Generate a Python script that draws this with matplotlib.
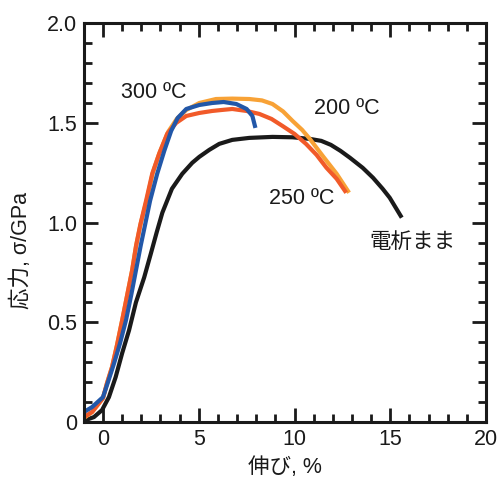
import matplotlib
matplotlib.use("Agg")
import matplotlib.pyplot as plt
from matplotlib.ticker import MultipleLocator

plt.rcParams["font.family"] = ["Liberation Sans", "Noto Sans CJK JP", "DejaVu Sans"]

# 応力-ひずみ曲線 (伸び %, 応力 GPa)
as_dep_x = [-1.0, -0.9, -0.47, -0.05, 0.31, 0.66, 1.0, 1.36, 1.72, 2.15, 2.5, 2.8, 3.1, 3.6, 4.14,
            4.66, 5.03, 5.55, 6.07, 6.75, 7.64, 8.85, 9.9, 10.8, 11.4, 11.9, 12.4, 12.9,
            13.56, 14.1, 14.6, 14.97, 15.6]
as_dep_y = [0.0, 0.01, 0.025, 0.06, 0.125, 0.225, 0.345, 0.46, 0.6, 0.725, 0.845, 0.95, 1.05,
            1.17, 1.245, 1.3, 1.33, 1.365, 1.395, 1.415, 1.425, 1.43, 1.428, 1.42, 1.41, 1.39,
            1.36, 1.325, 1.275, 1.225, 1.17, 1.125, 1.025]

t200_x = [-1.0, -0.57, 0.0, 0.21, 0.47, 0.73, 1.0, 1.26, 1.52, 1.73, 1.98, 2.3, 2.6, 2.95, 3.4,
          3.85, 4.35, 5.03, 5.9, 6.75, 7.64, 8.3, 8.85, 9.4, 9.9, 10.4, 10.8, 11.47, 12.2, 12.85]
t200_y = [0.02, 0.05, 0.12, 0.195, 0.275, 0.385, 0.51, 0.635, 0.76, 0.885, 1.0, 1.12, 1.25,
          1.35, 1.455, 1.52, 1.565, 1.6, 1.62, 1.622, 1.62, 1.613, 1.595, 1.558, 1.51, 1.465,
          1.42, 1.335, 1.245, 1.15]

t250_x = [-1.0, -0.57, 0.0, 0.21, 0.47, 0.73, 1.0, 1.26, 1.52, 1.73, 1.95, 2.25, 2.57, 2.93,
          3.35, 3.82, 4.35, 5.03, 5.7, 6.2, 6.75, 7.5, 8.17, 8.8, 9.37, 10.0, 10.6, 11.15,
          11.67, 12.2, 12.7]
t250_y = [0.025, 0.05, 0.12, 0.195, 0.275, 0.385, 0.51, 0.635, 0.76, 0.885, 0.99, 1.11, 1.245,
          1.345, 1.445, 1.5, 1.535, 1.55, 1.56, 1.565, 1.57, 1.56, 1.545, 1.52, 1.485, 1.445,
          1.395, 1.34, 1.275, 1.22, 1.15]

t300_x = [-1.0, -0.57, 0.0, 0.26, 0.58, 0.89, 1.2, 1.47, 1.72, 1.97, 2.2, 2.46, 2.83, 3.2,
          3.56, 3.9, 4.35, 5.03, 5.7, 6.3, 6.96, 7.5, 7.8, 7.96]
t300_y = [0.05, 0.075, 0.125, 0.2, 0.295, 0.395, 0.51, 0.635, 0.76, 0.885, 0.99, 1.11, 1.245,
          1.36, 1.46, 1.525, 1.57, 1.59, 1.6, 1.605, 1.595, 1.57, 1.535, 1.475]

FS = 15.5

fig = plt.figure(figsize=(4.99, 4.84), dpi=100)
ax = fig.add_axes([0.168, 0.128, 0.806, 0.824])

lw = 3.0
style = dict(lw=lw, solid_joinstyle="round", solid_capstyle="butt")
ax.plot(as_dep_x, as_dep_y, color="#1a1a1a", **style)
ax.plot(t200_x, t200_y, color="#f8a236", **style)
ax.plot(t250_x, t250_y, color="#f15a29", **style)
ax.plot(t300_x, t300_y, color="#2257a8", **style)

ax.set_xlim(-1, 20)
ax.set_ylim(0, 2.0)

ax.text(2.67, 1.655, "300 ºC", fontsize=FS, ha="center", va="center", color="#1a1a1a")
ax.text(12.72, 1.57, "200 ºC", fontsize=FS, ha="center", va="center", color="#1a1a1a")
ax.text(10.37, 1.12, "250 ºC", fontsize=FS, ha="center", va="center", color="#1a1a1a")
ax.text(16.18, 0.9, "電析まま", fontsize=FS, ha="center", va="center", color="#1a1a1a")

ax.xaxis.set_major_locator(MultipleLocator(5))
ax.xaxis.set_minor_locator(MultipleLocator(1))
ax.yaxis.set_minor_locator(MultipleLocator(0.1))
ax.set_yticks([0, 0.5, 1.0, 1.5, 2.0])
ax.set_yticklabels(["0", "0.5", "1.0", "1.5", "2.0"])

ax.tick_params(which="both", direction="in", top=True, right=True, labelsize=FS, colors="#1a1a1a")
ax.tick_params(which="major", length=10, width=2.0, pad=5)
ax.tick_params(which="minor", length=6, width=2.0)
for side in ax.spines.values():
    side.set_linewidth(2.2)
    side.set_color("#1a1a1a")

ax.set_xlabel("伸び, %", fontsize=FS, va="center", color="#1a1a1a")
ax.set_ylabel("応力, σ/GPa", fontsize=FS, va="center", color="#1a1a1a")
ax.xaxis.set_label_coords(0.5, -0.113)
ax.yaxis.set_label_coords(-0.155, 0.43)

fig.savefig("out.png", dpi=100)
